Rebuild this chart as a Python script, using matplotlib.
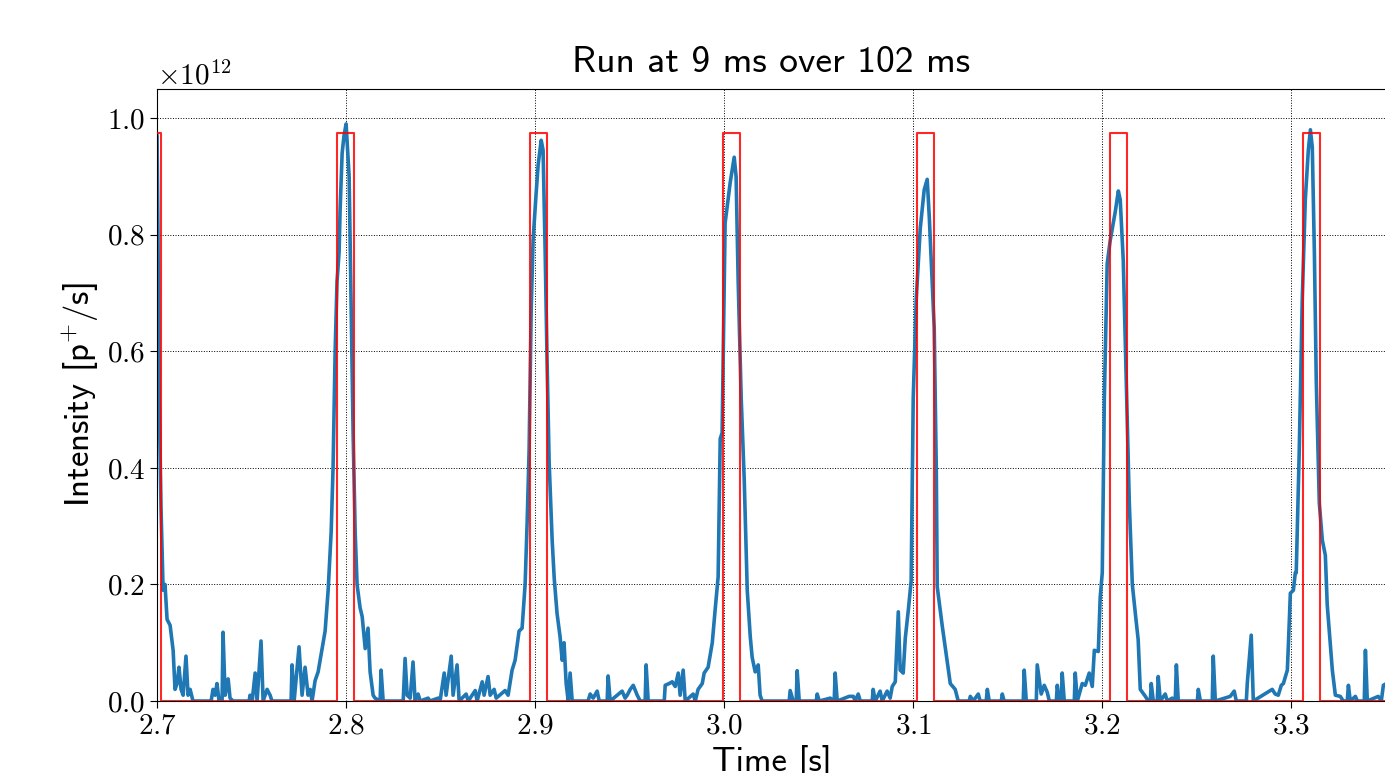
import numpy as np
import matplotlib
matplotlib.use("Agg")
from matplotlib import pyplot as plt

plt.rcParams['font.family'] = 'serif'
plt.rcParams['font.serif'] = ['cmr10']
plt.rcParams['mathtext.fontset'] = 'cm'
plt.rcParams['axes.formatter.use_mathtext'] = True

# measured intensity [1e12 p+/s]
time = [2.6950, 2.6980, 2.7000, 2.7005, 2.7011, 2.7021, 2.7032, 2.7042, 2.7053, 2.7069,
        2.7085, 2.7095, 2.7106, 2.7116, 2.7127, 2.7138, 2.7153, 2.7164, 2.7175, 2.7190,
        2.7286, 2.7296, 2.7307, 2.7317, 2.7328, 2.7344, 2.7349, 2.7360, 2.7376, 2.7386,
        2.7402, 2.7487, 2.7492, 2.7503, 2.7519, 2.7529, 2.7550, 2.7561, 2.7582, 2.7598,
        2.7608, 2.7709, 2.7714, 2.7725, 2.7751, 2.7767, 2.7783, 2.7799, 2.7810, 2.7820,
        2.7836, 2.7852, 2.7873, 2.7889, 2.7905, 2.7921, 2.7931, 2.7942, 2.7952, 2.7963,
        2.7968, 2.7979, 2.7989, 2.8000, 2.8011, 2.8016, 2.8026, 2.8037, 2.8048, 2.8058,
        2.8074, 2.8085, 2.8101, 2.8116, 2.8127, 2.8143, 2.8153, 2.8180, 2.8185, 2.8196,
        2.8302, 2.8312, 2.8323, 2.8339, 2.8354, 2.8365, 2.8381, 2.8392, 2.8434, 2.8444,
        2.8487, 2.8497, 2.8519, 2.8529, 2.8556, 2.8566, 2.8587, 2.8598, 2.8635, 2.8646,
        2.8683, 2.8693, 2.8720, 2.8730, 2.8751, 2.8762, 2.8783, 2.8794, 2.8841, 2.8857,
        2.8878, 2.8894, 2.8915, 2.8931, 2.8947, 2.8958, 2.8968, 2.8979, 2.8989, 2.9005,
        2.9016, 2.9032, 2.9042, 2.9053, 2.9063, 2.9074, 2.9090, 2.9101, 2.9116, 2.9132,
        2.9143, 2.9153, 2.9164, 2.9175, 2.9185, 2.9196, 2.9280, 2.9291, 2.9307, 2.9328,
        2.9339, 2.9381, 2.9386, 2.9397, 2.9460, 2.9476, 2.9487, 2.9503, 2.9519, 2.9540,
        2.9556, 2.9582, 2.9587, 2.9598, 2.9683, 2.9688, 2.9709, 2.9725, 2.9741, 2.9757,
        2.9767, 2.9783, 2.9794, 2.9836, 2.9847, 2.9862, 2.9884, 2.9894, 2.9915, 2.9937,
        2.9952, 2.9968, 2.9979, 2.9989, 3.0005, 3.0032, 3.0053, 3.0063, 3.0074, 3.0090,
        3.0106, 3.0122, 3.0138, 3.0148, 3.0164, 3.0180, 3.0190, 3.0201, 3.0344, 3.0349,
        3.0365, 3.0381, 3.0386, 3.0397, 3.0487, 3.0492, 3.0503, 3.0561, 3.0582, 3.0587,
        3.0598, 3.0661, 3.0683, 3.0693, 3.0709, 3.0720, 3.0783, 3.0788, 3.0799, 3.0825,
        3.0836, 3.0862, 3.0878, 3.0889, 3.0905, 3.0921, 3.0931, 3.0947, 3.0958, 3.0974,
        3.0989, 3.1000, 3.1016, 3.1037, 3.1058, 3.1074, 3.1085, 3.1095, 3.1111, 3.1122,
        3.1127, 3.1153, 3.1180, 3.1196, 3.1222, 3.1238, 3.1296, 3.1302, 3.1317, 3.1344,
        3.1354, 3.1386, 3.1392, 3.1402, 3.1466, 3.1471, 3.1481, 3.1582, 3.1587, 3.1598,
        3.1651, 3.1656, 3.1677, 3.1693, 3.1709, 3.1720, 3.1757, 3.1762, 3.1772, 3.1783,
        3.1788, 3.1799, 3.1852, 3.1857, 3.1868, 3.1894, 3.1910, 3.1931, 3.1947, 3.1958,
        3.1979, 3.1989, 3.2000, 3.2011, 3.2026, 3.2042, 3.2069, 3.2085, 3.2095, 3.2111,
        3.2127, 3.2143, 3.2159, 3.2175, 3.2190, 3.2201, 3.2228, 3.2243, 3.2254, 3.2259,
        3.2270, 3.2291, 3.2296, 3.2307, 3.2333, 3.2344, 3.2370, 3.2386, 3.2392, 3.2402,
        3.2503, 3.2508, 3.2519, 3.2582, 3.2587, 3.2598, 3.2677, 3.2698, 3.2709, 3.2762,
        3.2767, 3.2788, 3.2799, 3.2899, 3.2915, 3.2931, 3.2947, 3.2958, 3.2979, 3.2984,
        3.2995, 3.3011, 3.3021, 3.3026, 3.3042, 3.3058, 3.3074, 3.3090, 3.3101, 3.3111,
        3.3122, 3.3132, 3.3148, 3.3164, 3.3180, 3.3190, 3.3206, 3.3217, 3.3233, 3.3259,
        3.3275, 3.3296, 3.3302, 3.3312, 3.3339, 3.3349, 3.3386, 3.3392, 3.3402, 3.3460,
        3.3476, 3.3487, 3.3503]
intensity = [0.90, 0.99, 0.97, 0.80, 0.52, 0.33, 0.19, 0.20, 0.14, 0.13,
             0.087, 0.02, 0.03, 0.058, 0.02, 0.01, 0.077, 0.01, 0.02, 0.0,
             0.0, 0.02, 0.01, 0.03, 0.0, 0.0, 0.118, 0.01, 0.038, 0.005,
             0.0, 0.0, 0.01, 0.0, 0.048, 0.0, 0.103, 0.0, 0.02, 0.01,
             0.0, 0.0, 0.062, 0.0, 0.093, 0.01, 0.058, 0.01, 0.02, 0.0,
             0.035, 0.05, 0.09, 0.12, 0.19, 0.29, 0.40, 0.60, 0.72, 0.77,
             0.84, 0.94, 0.97, 0.99, 0.93, 0.90, 0.69, 0.46, 0.29, 0.20,
             0.16, 0.145, 0.09, 0.125, 0.05, 0.01, 0.005, 0.0, 0.053, 0.0,
             0.0, 0.073, 0.01, 0.005, 0.067, 0.0, 0.012, 0.0, 0.005, 0.0,
             0.005, 0.0, 0.048, 0.01, 0.077, 0.01, 0.062, 0.0, 0.012, 0.0,
             0.018, 0.0, 0.033, 0.01, 0.042, 0.01, 0.02, 0.005, 0.018, 0.01,
             0.053, 0.07, 0.12, 0.125, 0.20, 0.31, 0.43, 0.67, 0.79, 0.87,
             0.92, 0.962, 0.945, 0.77, 0.585, 0.41, 0.276, 0.21, 0.15, 0.11,
             0.07, 0.10, 0.03, 0.0, 0.048, 0.0, 0.0, 0.012, 0.005, 0.017,
             0.0, 0.0, 0.043, 0.0, 0.017, 0.005, 0.01, 0.02, 0.027, 0.01,
             0.0, 0.0, 0.062, 0.0, 0.0, 0.027, 0.03, 0.033, 0.025, 0.048,
             0.01, 0.053, 0.0, 0.012, 0.0, 0.02, 0.03, 0.048, 0.058, 0.10,
             0.156, 0.213, 0.45, 0.46, 0.82, 0.89, 0.933, 0.90, 0.72, 0.52,
             0.38, 0.19, 0.11, 0.075, 0.05, 0.062, 0.01, 0.0, 0.0, 0.018,
             0.0, 0.0, 0.052, 0.0, 0.0, 0.012, 0.0, 0.005, 0.0, 0.048,
             0.0, 0.008, 0.008, 0.0, 0.012, 0.0, 0.0, 0.02, 0.0, 0.017,
             0.0, 0.017, 0.005, 0.025, 0.033, 0.153, 0.053, 0.048, 0.108, 0.156,
             0.206, 0.52, 0.69, 0.81, 0.877, 0.895, 0.83, 0.756, 0.64, 0.40,
             0.196, 0.13, 0.067, 0.03, 0.02, 0.0, 0.0, 0.008, 0.0, 0.012,
             0.0, 0.0, 0.02, 0.0, 0.0, 0.012, 0.0, 0.0, 0.053, 0.0,
             0.0, 0.062, 0.012, 0.027, 0.015, 0.0, 0.0, 0.027, 0.0, 0.0,
             0.048, 0.0, 0.0, 0.048, 0.0, 0.03, 0.027, 0.048, 0.025, 0.087,
             0.085, 0.178, 0.22, 0.52, 0.75, 0.79, 0.84, 0.875, 0.86, 0.756,
             0.55, 0.34, 0.20, 0.15, 0.105, 0.02, 0.008, 0.0, 0.0, 0.03,
             0.0, 0.0, 0.042, 0.0, 0.012, 0.0, 0.005, 0.0, 0.062, 0.0,
             0.0, 0.02, 0.0, 0.0, 0.077, 0.0, 0.008, 0.017, 0.0, 0.0,
             0.03, 0.113, 0.0, 0.02, 0.012, 0.01, 0.027, 0.03, 0.053, 0.092,
             0.185, 0.19, 0.22, 0.22, 0.43, 0.69, 0.86, 0.945, 0.98, 0.95,
             0.77, 0.55, 0.34, 0.276, 0.25, 0.165, 0.10, 0.053, 0.01, 0.008,
             0.0, 0.0, 0.027, 0.0, 0.008, 0.0, 0.0, 0.087, 0.0, 0.008,
             0.0, 0.027, 0.03]

# extraction windows: 9 ms every 102 ms
win_start = [2.6930, 2.7952, 2.8974, 2.9996, 3.1018, 3.2040, 3.3062]
win_len = 0.009
win_level = 0.975

scale = 1e12
t = np.array(time)
y = np.array(intensity) * scale

# gate trace as a rectangular pulse train
gx, gy = [2.60], [0.0]
for s in win_start:
    gx += [s, s, s + win_len, s + win_len]
    gy += [0.0, win_level * scale, win_level * scale, 0.0]
gx.append(3.45)
gy.append(0.0)

fig = plt.figure(figsize=(13.85, 7.73), dpi=100)
ax = fig.add_axes([0.1134, 0.0931, 0.8872, 0.7918])

ax.plot(t, y, color='#1f77b4', lw=2.6, zorder=2)
ax.plot(gx, gy, color='red', lw=1.5, alpha=0.85, zorder=3)

ax.set_xlim(2.7, 3.35)
ax.set_ylim(0, 1.05e12)
ax.set_xticks(np.arange(2.7, 3.35, 0.1))
ax.set_yticks(np.arange(0, 1.01, 0.2) * scale)
ax.grid(True, color='black', ls=':', lw=0.7)
ax.set_axisbelow(True)

ax.tick_params(labelsize=21, direction='out', length=5)
ax.yaxis.get_offset_text().set_fontsize(21)
ax.set_xticklabels(["$%.1f$" % v for v in ax.get_xticks()])

sans = 'cmss10'
ax.set_title('Run at 9 ms over 102 ms', fontsize=27, family=sans, pad=12)
ax.set_ylabel('Intensity [p$^{\\mathsf{+}}$/s]', fontsize=25, family=sans, labelpad=4)
ax.set_xlabel('Time [s]', fontsize=25, family=sans, labelpad=4)

fig.savefig('out.png', dpi=100)
